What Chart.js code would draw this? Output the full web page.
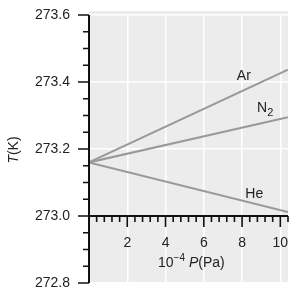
<!DOCTYPE html>
<html>
<head>
<meta charset="utf-8">
<script src="https://cdn.jsdelivr.net/npm/chart.js@4.4.0/dist/chart.umd.min.js"></script>
<style>
html, body { margin: 0; padding: 0; background: #fff; }
</style>
</head>
<body>
<canvas id="chart" width="305" height="293"></canvas>
<script>
// data
var pressure = [0, 10.4];
var argon = [273.16, 273.437];
var nitrogen = [273.16, 273.295];
var helium = [273.16, 273.012];
var gasNames = ['Ar', 'N', 'He'];
var gasSubs = ['', '2', ''];
var labelX = [8.09, 9.05, 8.64];
var labelY = [273.416, 273.321, 273.064];
var xTicks = [2, 4, 6, 8, 10];
var yTicks = [272.8, 273.0, 273.2, 273.4, 273.6];

var FONT = "'Liberation Sans', Arial, sans-serif";

function points(ys) {
    return pressure.map(function(p, i) { return {x: p, y: ys[i]}; });
}

var lineStyle = {
    borderColor: '#999999',
    borderWidth: 2,
    pointRadius: 0,
    fill: false,
    tension: 0
};

var decor = {
    id: 'decor',
    beforeDraw: function(chart) {
        var ctx = chart.ctx, a = chart.chartArea;
        ctx.save();
        ctx.fillStyle = '#ececec';
        ctx.fillRect(a.left, a.top - 4, a.right - a.left, a.bottom - a.top + 4);
        ctx.restore();
    },
    afterDraw: function(chart) {
        var ctx = chart.ctx, a = chart.chartArea;
        var xs = chart.scales.x, ys = chart.scales.y;
        var y0 = ys.getPixelForValue(273.0);
        var i, p, len;
        ctx.save();
        ctx.strokeStyle = '#111';
        ctx.lineWidth = 2;
        ctx.beginPath();
        ctx.moveTo(a.left, a.top);
        ctx.lineTo(a.left, a.bottom);
        ctx.moveTo(a.left, y0);
        ctx.lineTo(a.right, y0);
        ctx.stroke();
        // tick marks
        ctx.lineWidth = 1.6;
        ctx.beginPath();
        for (i = 0; i <= 16; i++) {
            p = ys.getPixelForValue(272.8 + i * 0.05);
            len = (i % 4 === 0) ? 11 : 6;
            ctx.moveTo(a.left, p);
            ctx.lineTo(a.left - len, p);
        }
        for (i = 1; i <= 26; i++) {
            p = xs.getPixelForValue(i * 0.4);
            len = (i % 5 === 0) ? 11 : 6;
            ctx.moveTo(p, y0);
            ctx.lineTo(p, y0 + len);
        }
        ctx.stroke();

        // gas labels
        ctx.fillStyle = '#222';
        ctx.textBaseline = 'middle';
        for (i = 0; i < gasNames.length; i++) {
            var gx = xs.getPixelForValue(labelX[i]);
            var gy = ys.getPixelForValue(labelY[i]);
            ctx.font = '14px ' + FONT;
            var w = ctx.measureText(gasNames[i]).width;
            ctx.textAlign = 'center';
            ctx.fillText(gasNames[i], gx, gy);
            if (gasSubs[i]) {
                ctx.font = '11px ' + FONT;
                ctx.textAlign = 'left';
                ctx.fillText(gasSubs[i], gx + w / 2, gy + 5);
            }
        }

        // x title: 10^-4 P(Pa)
        var tx = 158, ty = 263;
        ctx.textAlign = 'left';
        ctx.font = '14px ' + FONT;
        ctx.fillText('10', tx, ty);
        tx += ctx.measureText('10').width;
        ctx.font = '10px ' + FONT;
        ctx.fillText('\u22124', tx, ty - 5);
        tx += ctx.measureText('\u22124').width + 4;
        ctx.font = 'italic 14px ' + FONT;
        ctx.fillText('P', tx, ty);
        tx += ctx.measureText('P').width;
        ctx.font = '14px ' + FONT;
        ctx.fillText('(Pa)', tx, ty);

        // y title: T(K)
        ctx.translate(14, 150);
        ctx.rotate(-Math.PI / 2);
        ctx.font = 'italic 14px ' + FONT;
        var w1 = ctx.measureText('T').width;
        ctx.font = '14px ' + FONT;
        var w2 = ctx.measureText('(K)').width;
        var sx = -(w1 + w2) / 2;
        ctx.font = 'italic 14px ' + FONT;
        ctx.fillText('T', sx, 0);
        ctx.font = '14px ' + FONT;
        ctx.fillText('(K)', sx + w1, 0);
        ctx.restore();
    }
};

var ctx = document.getElementById('chart');
var chart = new Chart(ctx, {
    type: 'line',
    data: {
        datasets: [
            Object.assign({label: 'Ar', data: points(argon)}, lineStyle),
            Object.assign({label: 'N2', data: points(nitrogen)}, lineStyle),
            Object.assign({label: 'He', data: points(helium)}, lineStyle)
        ]
    },
    options: {
        responsive: false,
        animation: false,
        layout: { padding: { top: 15, right: 17, bottom: 10, left: 0 } },
        plugins: { legend: { display: false }, tooltip: { enabled: false } },
        scales: {
            x: {
                type: 'linear',
                min: 0,
                max: 10.4,
                position: { y: 273.0 },
                afterFit: function(s) {
                    s.height = 0;
                    s.paddingLeft = 0; s.paddingRight = 0;
                    s.paddingTop = 0; s.paddingBottom = 0;
                },
                afterBuildTicks: function(s) {
                    s.ticks = xTicks.map(function(v) { return {value: v}; });
                },
                border: { display: false },
                grid: { color: '#ffffff', lineWidth: 1.5, drawTicks: false },
                ticks: {
                    padding: 19,
                    color: '#222',
                    font: { family: FONT, size: 14 },
                    maxRotation: 0,
                    callback: function(v) { return String(v); }
                }
            },
            y: {
                type: 'linear',
                min: 272.8,
                max: 273.6,
                afterFit: function(s) {
                    s.width = 89;
                    s.paddingTop = 0; s.paddingBottom = 0;
                },
                afterBuildTicks: function(s) {
                    s.ticks = yTicks.map(function(v) { return {value: v}; });
                },
                border: { display: false },
                grid: { color: '#ffffff', lineWidth: 1.5, drawTicks: false },
                ticks: {
                    padding: 19,
                    color: '#222',
                    font: { family: FONT, size: 14 },
                    callback: function(v) { return v.toFixed(1); }
                }
            }
        }
    },
    plugins: [decor]
});
</script>
</body>
</html>
